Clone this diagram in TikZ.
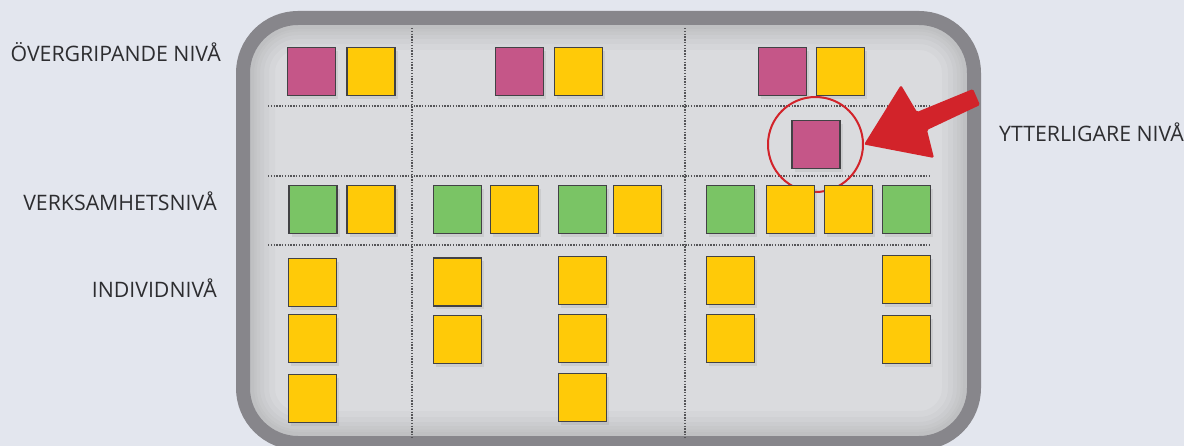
\documentclass[tikz,border=0pt]{standalone}
\usepackage{fontspec}
\usepackage{xcolor}
\usepackage{tikz}
\usetikzlibrary{shadows}
\newfontfamily\labelfont{Open Sans}
\definecolor{figBack}{RGB}{227,230,238}
\definecolor{figFrame}{RGB}{135,134,139}
\definecolor{figBoard}{RGB}{218,219,222}
\definecolor{figLine}{RGB}{85,85,88}
\definecolor{figMagenta}{RGB}{197,86,136}
\definecolor{figYellow}{RGB}{255,202,8}
\definecolor{figGreen}{RGB}{122,196,101}
\definecolor{figRed}{RGB}{210,35,42}
\definecolor{figInk}{RGB}{45,45,48}
\tikzset{
  note/.style={draw=figInk!90,line width=1.3pt,minimum size=48pt,inner sep=0pt,
    drop shadow={shadow xshift=2.5pt,shadow yshift=-3.5pt,opacity=0.16}},
  notemag/.style={note,fill=figMagenta},
  noteyel/.style={note,fill=figYellow},
  notegrn/.style={note,fill=figGreen},
  divider/.style={draw=figLine,line width=1.2pt,dash pattern=on 1.4pt off 1.4pt},
  levellabel/.style={font=\labelfont\fontsize{21.3}{24}\selectfont,text=figInk,inner sep=0pt},
  boardshade/.style={black,opacity=0.018,rounded corners=55pt},
}

\begin{document}
\begin{tikzpicture}[x=1pt,y=-1pt]
% Overall size: 1184 x 446 px, one unit per pixel.
\useasboundingbox (0,0) rectangle (1184,446);
\fill[figBack] (0,0) rectangle (1184,446);

% Board with thick rounded frame and a soft inner shade.
\fill[figBoard,rounded corners=55pt] (243,18) rectangle (974,443);
\begin{scope}
  \clip[rounded corners=55pt] (243,18) rectangle (974,443);
  \draw[boardshade,line width=64pt] (243,18) rectangle (974,443);
  \draw[boardshade,line width=52pt] (243,18) rectangle (974,443);
  \draw[boardshade,line width=42pt] (243,18) rectangle (974,443);
  \draw[boardshade,line width=34pt] (243,18) rectangle (974,443);
  \draw[boardshade,line width=27pt] (243,18) rectangle (974,443);
  \draw[boardshade,line width=22pt] (243,18) rectangle (974,443);
\end{scope}
\draw[figFrame,line width=14pt,rounded corners=55pt] (243,18) rectangle (974,443);

% Dotted grid.
\draw[divider] (412,28) -- (412,437);
\draw[divider] (685,28) -- (685,437);
\draw[divider] (268,106) -- (931,106);
\draw[divider] (268,176) -- (931,176);
\draw[divider] (268,245) -- (931,245);

% Level labels.
\node[levellabel,anchor=base east] (lblTop) at (221,62) {ÖVERGRIPANDE NIVÅ};
\node[levellabel,anchor=base east] (lblOrg) at (217,211) {VERKSAMHETSNIVÅ};
\node[levellabel,anchor=base east] (lblInd) at (217,298) {INDIVIDNIVÅ};
\node[levellabel,anchor=base west] (lblExtra) at (999,142) {YTTERLIGARE NIVÅ};

% Row 1: overarching level.
\node[notemag] (t1m) at (311.5,71.5) {};
\node[noteyel] (t1y) at (371,71.5) {};
\node[notemag] (t2m) at (519.5,71.5) {};
\node[noteyel] (t2y) at (578.5,71.5) {};
\node[notemag] (t3m) at (782.5,71.5) {};
\node[noteyel] (t3y) at (840.5,71.5) {};

% Row 2: extra level, circled.
\node[notemag] (x3m) at (816,144.5) {};
\node[circle,draw=figRed,line width=2pt,minimum size=95pt,inner sep=0pt] (ring) at (815.5,144.5) {};

% Row 3: organisation level.
\node[notegrn] (o1g) at (313,209.5) {};
\node[noteyel] (o1y) at (371,209.5) {};
\node[notegrn] (o2g) at (457.5,209.5) {};
\node[noteyel] (o2y) at (514.5,209.5) {};
\node[notegrn] (o3g) at (582.5,209.5) {};
\node[noteyel] (o3y) at (637.5,209.5) {};
\node[notegrn] (o4g) at (730.5,209.5) {};
\node[noteyel] (o4y) at (790.5,209.5) {};
\node[noteyel] (o5y) at (848.5,209.5) {};
\node[notegrn] (o5g) at (906.5,209.5) {};

% Row 4: individual level.
\node[noteyel] (i1a) at (312.5,282.5) {};
\node[noteyel] (i1b) at (312.5,338.5) {};
\node[noteyel] (i1c) at (312.5,398.5) {};
\node[noteyel] (i2a) at (457.5,282) {};
\node[noteyel] (i2b) at (457.5,339.5) {};
\node[noteyel] (i3a) at (582.5,280.5) {};
\node[noteyel] (i3b) at (582.5,338.5) {};
\node[noteyel] (i3c) at (582.5,397.5) {};
\node[noteyel] (i4a) at (730.5,280.5) {};
\node[noteyel] (i4b) at (730.5,338.5) {};
\node[noteyel] (i5a) at (906.5,279.5) {};
\node[noteyel] (i5b) at (906.5,339.5) {};

% Red block arrow towards the ring.
\coordinate (tip) at (ring.east);
\fill[figRed,rounded corners=1.5pt] (tip) -- (901,85) -- (917,112) -- (973,89)
  -- (980,105) -- (927,130) -- (934,158) -- cycle;
\end{tikzpicture}
\end{document}
